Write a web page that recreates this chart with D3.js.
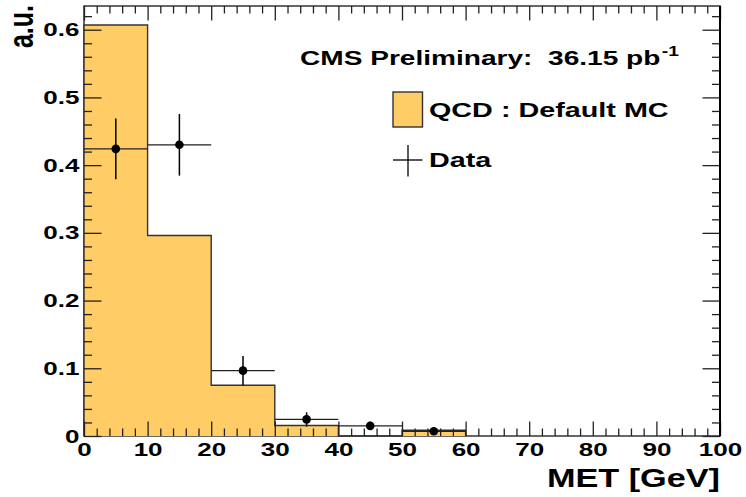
<!DOCTYPE html>
<html>
<head>
<meta charset="utf-8">
<script src="https://cdn.jsdelivr.net/npm/d3@7"></script>
<style>
  body { margin: 0; background: #fff; }
  text { font-family: "Liberation Sans", Arial, Helvetica, sans-serif; font-weight: bold; }
</style>
</head>
<body>
<div id="chart"></div>
<script>
// bins of the MC histogram (MET in GeV)
var binEdges = [0, 10, 20, 30, 40, 50, 60];
var mcValues = [0.607, 0.296, 0.075, 0.0155, 0, 0.0085];

// data points, one per bin
var dataCenters = [5, 15, 25, 35, 45, 55];
var dataValues = [0.424, 0.43, 0.0965, 0.0245, 0.015, 0.007];
var dataErrors = [0.045, 0.0455, 0.0215, 0.0105, 0.006, 0.004];

var xTicks = [0, 10, 20, 30, 40, 50, 60, 70, 80, 90, 100];
var yTicks = [0, 0.1, 0.2, 0.3, 0.4, 0.5, 0.6];

var W = 746, H = 497;
var SX = 1.37; // the picture is stretched sideways, text too

var svg = d3.select('#chart').append('svg')
  .attr('width', W)
  .attr('height', H);

var x = d3.scaleLinear().domain([0, 100]).range([84, 720]);
var y = d3.scaleLinear().domain([0, 0.635]).range([436, 6]);

var widen = function(sel, s) {
  sel.attr('transform', function() {
    var x0 = +d3.select(this).attr('x') || 0;
    return 'translate(' + x0 + ',0) scale(' + s + ',1) translate(' + (-x0) + ',0)';
  });
};

// frame
svg.append('rect')
  .attr('x', x(0)).attr('y', y(0.635))
  .attr('width', x(100) - x(0)).attr('height', y(0) - y(0.635))
  .attr('fill', '#fff')
  .attr('stroke', '#333')
  .attr('stroke-width', 1.5);

// MC histogram as a step outline
var pts = [[binEdges[0], 0]];
mcValues.forEach(function(v, i) { pts.push([binEdges[i], v]); });
pts.push([binEdges[binEdges.length - 1], mcValues[mcValues.length - 1]]);
pts.push([binEdges[binEdges.length - 1], 0]);

var step = d3.line()
  .x(function(d) { return x(d[0]); })
  .y(function(d) { return y(d[1]); })
  .curve(d3.curveStepAfter);

svg.append('path')
  .attr('d', step(pts))
  .attr('fill', '#ffcc66')
  .attr('stroke', '#333')
  .attr('stroke-width', 1.4);

// data: error bars + markers
var pts2 = dataCenters.map(function(c, i) {
  return { c: c, v: dataValues[i], e: dataErrors[i], lo: binEdges[i], hi: binEdges[i + 1] };
});

svg.selectAll('line.xerr').data(pts2)
  .enter().append('line')
  .attr('class', 'xerr')
  .attr('x1', function(d) { return x(d.lo); })
  .attr('x2', function(d) { return x(d.hi); })
  .attr('y1', function(d) { return y(d.v); })
  .attr('y2', function(d) { return y(d.v); })
  .attr('stroke', '#222')
  .attr('stroke-width', 1.3);

svg.selectAll('line.yerr').data(pts2)
  .enter().append('line')
  .attr('class', 'yerr')
  .attr('x1', function(d) { return x(d.c); })
  .attr('x2', function(d) { return x(d.c); })
  .attr('y1', function(d) { return y(d.v + d.e); })
  .attr('y2', function(d) { return y(d.v - d.e); })
  .attr('stroke', '#000')
  .attr('stroke-width', 1.5);

svg.selectAll('circle').data(pts2)
  .enter().append('circle')
  .attr('cx', function(d) { return x(d.c); })
  .attr('cy', function(d) { return y(d.v); })
  .attr('r', 4.3)
  .attr('fill', '#000');

// axes, ticks pointing inwards
var minorX = d3.range(0, 101, 2).filter(function(v) { return v % 10 !== 0; });
var minorY = d3.range(0, 0.635, 0.02).filter(function(v, i) { return i % 5 !== 0; });

var styleAxis = function(g) {
  g.select('.domain').remove();
  g.selectAll('line').attr('stroke', '#222').attr('stroke-width', 1.3);
};

var gx = svg.append('g')
  .attr('transform', 'translate(0,' + y(0) + ')')
  .call(d3.axisBottom(x).tickValues(xTicks).tickSize(-14.5).tickPadding(7).tickFormat(d3.format('d')))
  .call(styleAxis);
svg.append('g')
  .attr('transform', 'translate(0,' + y(0) + ')')
  .call(d3.axisBottom(x).tickValues(minorX).tickSize(-7.5).tickFormat(''))
  .call(styleAxis);

svg.append('g')
  .attr('transform', 'translate(0,' + y(0.635) + ')')
  .call(d3.axisTop(x).tickValues(xTicks).tickSize(-14.5).tickFormat(''))
  .call(styleAxis);
svg.append('g')
  .attr('transform', 'translate(0,' + y(0.635) + ')')
  .call(d3.axisTop(x).tickValues(minorX).tickSize(-7.5).tickFormat(''))
  .call(styleAxis);

var gy = svg.append('g')
  .attr('transform', 'translate(' + x(0) + ',0)')
  .call(d3.axisLeft(y).tickValues(yTicks).tickSize(-17.5).tickPadding(4.5)
    .tickFormat(function(d) { return d === 0 ? '0' : d.toFixed(1); }))
  .call(styleAxis);
svg.append('g')
  .attr('transform', 'translate(' + x(0) + ',0)')
  .call(d3.axisLeft(y).tickValues(minorY).tickSize(-8).tickFormat(''))
  .call(styleAxis);

svg.append('g')
  .attr('transform', 'translate(' + x(100) + ',0)')
  .call(d3.axisRight(y).tickValues(yTicks).tickSize(-17.5).tickFormat(''))
  .call(styleAxis);
svg.append('g')
  .attr('transform', 'translate(' + x(100) + ',0)')
  .call(d3.axisRight(y).tickValues(minorY).tickSize(-8).tickFormat(''))
  .call(styleAxis);

// right edge drawn heavier, like the original
svg.append('line')
  .attr('x1', x(100)).attr('x2', x(100))
  .attr('y1', y(0.635)).attr('y2', y(0))
  .attr('stroke', '#000').attr('stroke-width', 2);

[gx, gy].forEach(function(g) {
  g.attr('font-family', null).attr('font-size', null);
  g.selectAll('text')
    .attr('font-size', 19)
    .attr('fill', '#000')
    .call(widen, SX);
});

// axis titles
svg.append('text')
  .attr('x', x(100)).attr('y', 487)
  .attr('text-anchor', 'end')
  .attr('font-size', 25)
  .text('MET [GeV]')
  .call(widen, SX);

svg.append('text')
  .attr('transform', 'translate(33,5) scale(' + SX + ',1) rotate(-90)')
  .attr('text-anchor', 'end')
  .attr('font-size', 25)
  .text('a.u.');

// legend
var cms = svg.append('text')
  .attr('x', 300).attr('y', 65)
  .attr('font-size', 20.5)
  .attr('xml:space', 'preserve');
cms.append('tspan').text('CMS Preliminary:  36.15 pb');
cms.append('tspan').attr('font-size', 14).attr('dx', 1).attr('dy', -9).text('-1');
cms.call(widen, SX);

svg.append('rect')
  .attr('x', 393).attr('y', 92)
  .attr('width', 29.5).attr('height', 35)
  .attr('fill', '#ffcc66')
  .attr('stroke', '#333')
  .attr('stroke-width', 1.4);

svg.append('text')
  .attr('x', 429).attr('y', 117)
  .attr('font-size', 21)
  .text('QCD : Default MC')
  .call(widen, SX);

svg.append('line')
  .attr('x1', 393).attr('x2', 422.5).attr('y1', 160).attr('y2', 160)
  .attr('stroke', '#000').attr('stroke-width', 1.3);
svg.append('line')
  .attr('x1', 408).attr('x2', 408).attr('y1', 145).attr('y2', 176.5)
  .attr('stroke', '#000').attr('stroke-width', 1.3);

svg.append('text')
  .attr('x', 429).attr('y', 167.5)
  .attr('font-size', 21)
  .text('Data')
  .call(widen, SX);
</script>
</body>
</html>
